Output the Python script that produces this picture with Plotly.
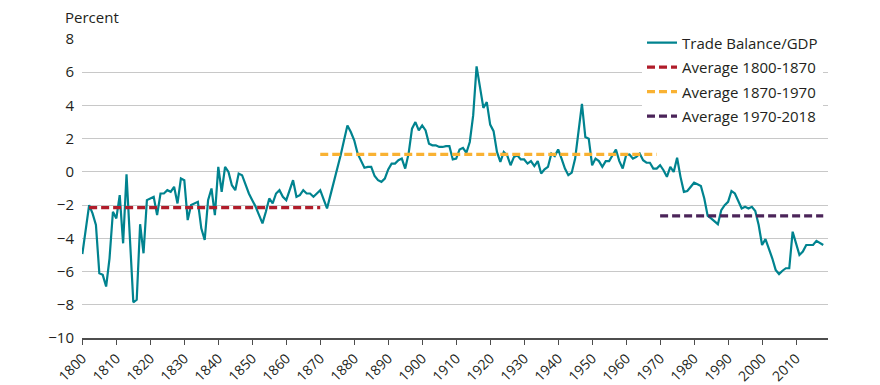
import plotly.graph_objects as go

years = list(range(1800, 2019))

trade_balance = [
    # 1800-1809
    -4.95, -3.4, -2.0, -2.5, -3.2, -6.1, -6.2, -6.9, -5.2, -2.4,
    # 1810-1819
    -2.8, -1.4, -4.3, -0.15, -4.0, -7.85, -7.7, -3.15, -4.9, -1.7,
    # 1820-1829
    -1.6, -1.5, -2.6, -1.3, -1.3, -1.1, -1.2, -0.9, -1.9, -0.4,
    # 1830-1839
    -0.5, -2.9, -2.0, -1.9, -1.8, -3.4, -4.1, -1.7, -1.0, -2.6,
    # 1840-1849
    0.3, -1.2, 0.3, 0.0, -0.8, -1.1, -0.1, -0.2, -0.75, -1.3,
    # 1850-1859
    -1.7, -2.1, -2.6, -3.1, -2.4, -1.6, -1.9, -1.3, -1.1, -1.5,
    # 1860-1869
    -1.7, -1.1, -0.5, -1.5, -1.4, -1.1, -1.3, -1.3, -1.5, -1.3,
    # 1870-1879
    -1.1, -1.65, -2.2, -1.4, -0.6, 0.1, 1.0, 1.9, 2.8, 2.4,
    # 1880-1889
    1.9, 1.1, 0.65, 0.25, 0.3, 0.3, -0.25, -0.5, -0.6, -0.4,
    # 1890-1899
    0.15, 0.5, 0.5, 0.7, 0.8, 0.2, 1.1, 2.6, 3.0, 2.5,
    # 1900-1909
    2.8, 2.5, 1.7, 1.6, 1.6, 1.5, 1.5, 1.55, 1.55, 0.75,
    # 1910-1919
    0.8, 1.35, 1.45, 1.15, 1.8, 3.4, 6.35, 5.1, 3.85, 4.2,
    # 1920-1929
    2.85, 2.45, 1.2, 0.6, 1.2, 1.0, 0.4, 0.9, 1.0, 0.75,
    # 1930-1939
    0.75, 0.5, 0.65, 0.35, 0.65, -0.1, 0.15, 0.3, 1.1, 0.95,
    # 1940-1949
    1.35, 0.8, 0.2, -0.2, -0.05, 0.8, 2.5, 4.1, 2.1, 2.0,
    # 1950-1959
    0.4, 0.8, 0.65, 0.3, 0.65, 0.65, 1.0, 1.35, 0.65, 0.2,
    # 1960-1969
    1.0, 1.05, 0.8, 0.9, 1.1, 0.7, 0.55, 0.55, 0.2, 0.2,
    # 1970-1979
    0.4, 0.1, -0.3, 0.3, 0.0, 0.85, -0.3, -1.2, -1.15, -0.9,
    # 1980-1989
    -0.65, -0.75, -0.85, -1.6, -2.65, -2.8, -2.95, -3.15, -2.3, -2.0,
    # 1990-1999
    -1.8, -1.15, -1.3, -1.8, -2.2, -2.1, -2.2, -2.1, -2.35, -3.2,
    # 2000-2009
    -4.4, -4.05, -4.6, -5.2, -5.9, -6.15, -5.95, -5.8, -5.8, -3.6,
    # 2010-2018
    -4.3, -5.0, -4.8, -4.4, -4.4, -4.4, -4.15, -4.3, -4.4,
]

avg_names = ["Average 1800-1870", "Average 1870-1970", "Average 1970-2018"]
avg_values = [-2.15, 1.06, -2.65]
avg_start_years = [1802, 1870, 1970]
avg_end_years = [1870, 1969, 2018]
avg_colors = ["#B01C2A", "#F9B233", "#4B2459"]

y_ticks = [8, 6, 4, 2, 0, -2, -4, -6, -8, -10]
x_ticks = list(range(1800, 2011, 10))

FONT = "Open Sans"

fig = go.Figure()
fig.add_trace(go.Scatter(
    x=years, y=trade_balance, mode="lines", name="Trade Balance/GDP",
    legendgroup="g0",
    line=dict(color="#00838F", width=2.2),
))
for i, (name, val, x0, x1, col) in enumerate(zip(avg_names, avg_values, avg_start_years, avg_end_years, avg_colors)):
    fig.add_trace(go.Scatter(
        x=[x0, x1], y=[val, val], mode="lines", name=name,
        legendgroup="g%d" % (i + 1),
        line=dict(color=col, width=3.2, dash="8px,4px"),
    ))

# page body has an 8px default margin, so the figure is sized 872x377
fig.update_layout(
    width=872, height=377,
    margin=dict(l=74, r=52, t=30.5, b=46.5, pad=0, autoexpand=False),
    paper_bgcolor="white", plot_bgcolor="white",
    font=dict(family=FONT, size=15, color="#231F20"),
    showlegend=True,
    legend=dict(
        x=(642 - 82) / 746, xanchor="left", y=1.042, yanchor="top",
        bgcolor="white", borderwidth=0,
        font=dict(family=FONT, size=15, color="#231F20"),
        tracegroupgap=2,
    ),
    annotations=[dict(
        text="Percent", xref="paper", yref="paper",
        x=-0.026, y=1.072, xanchor="left", yanchor="middle",
        showarrow=False, font=dict(family=FONT, size=15, color="#231F20"),
    )],
)

fig.update_xaxes(
    range=[1799.9, 2019.4], automargin=False,
    tickmode="array", tickvals=x_ticks, ticktext=[str(t) for t in x_ticks],
    tickangle=-45, tickfont=dict(family=FONT, size=14, color="#231F20"),
    showgrid=False, zeroline=False,
    showline=True, linecolor="#4D4D4D", linewidth=1.5,
    ticks="outside", ticklen=5, tickwidth=1.2, tickcolor="#4D4D4D",
)
fig.update_yaxes(
    range=[-10, 8], automargin=False,
    tickmode="array", tickvals=y_ticks,
    tickfont=dict(family=FONT, size=15, color="#231F20"),
    showgrid=True, gridcolor="#C8C8C8", gridwidth=1.3,
    zeroline=False, showline=False,
    ticks="outside", ticklen=4, tickcolor="rgba(0,0,0,0)",
)

fig.write_html("out.html")
